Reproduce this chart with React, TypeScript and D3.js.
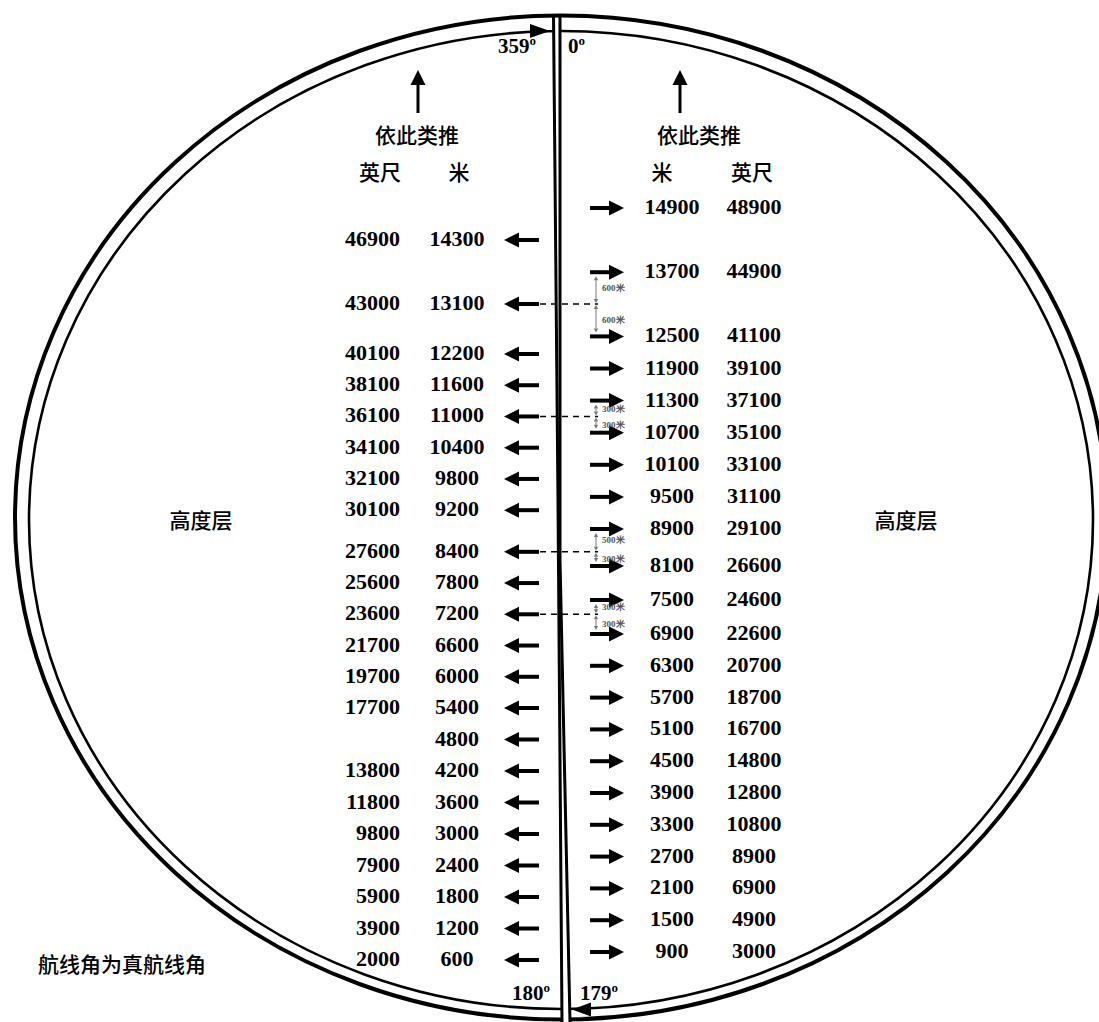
import React from "react";
import * as d3 from "d3";

// ---- data ----
const leftMeters = [14300, 13100, 12200, 11600, 11000, 10400, 9800, 9200, 8400, 7800, 7200, 6600, 6000, 5400, 4800, 4200, 3600, 3000, 2400, 1800, 1200, 600];
const leftFeet: (number | null)[] = [46900, 43000, 40100, 38100, 36100, 34100, 32100, 30100, 27600, 25600, 23600, 21700, 19700, 17700, null, 13800, 11800, 9800, 7900, 5900, 3900, 2000];
const rightMeters = [14900, 13700, 12500, 11900, 11300, 10700, 10100, 9500, 8900, 8100, 7500, 6900, 6300, 5700, 5100, 4500, 3900, 3300, 2700, 2100, 1500, 900];
const rightFeet = [48900, 44900, 41100, 39100, 37100, 35100, 33100, 31100, 29100, 26600, 24600, 22600, 20700, 18700, 16700, 14800, 12800, 10800, 8900, 6900, 4900, 3000];

// separation annotations: left level, upper & lower right levels, labels
const sepLeft = [13100, 11000, 8400, 7200];
const sepUpper = [13700, 11300, 8900, 7500];
const sepLower = [12500, 10700, 8100, 6900];
const sepLabels = [["600米", "600米"], ["300米", "300米"], ["500米", "300米"], ["300米", "300米"]];

const headerLeft = ["英尺", "米"];
const headerRight = ["米", "英尺"];

// ---- layout ----
const W = 1099, H = 1022;
const leftY = d3.scaleLinear().domain([600, 5400, 12200, 13100, 14300]).range([958, 706, 352, 302, 238]);
const rightY = d3.scaleLinear().domain([900, 6900, 8100, 8900, 14900]).range([950, 632, 564, 527, 206]);

const NUM_FONT = "'Liberation Serif', 'Times New Roman', serif";
const CJK_FONT = "'Noto Sans CJK SC', sans-serif";

function hArrow(x1: number, x2: number, y: number, head = 15, hw = 7.5, sw = 4) {
  const dir = x2 > x1 ? 1 : -1;
  const hb = x2 - dir * head;
  return (
    <g>
      <line x1={x1} y1={y} x2={hb + dir * 1} y2={y} stroke="#000" strokeWidth={sw} />
      <path d={`M${x2},${y} L${hb},${y - hw} L${hb},${y + hw} Z`} fill="#000" />
    </g>
  );
}

function vArrowUp(x: number, y1: number, y2: number) {
  const head = 15, hw = 7.5;
  return (
    <g>
      <line x1={x} y1={y1} x2={x} y2={y2 + head - 1} stroke="#000" strokeWidth={3} />
      <path d={`M${x},${y2} L${x - hw},${y2 + head} L${x + hw},${y2 + head} Z`} fill="#000" />
    </g>
  );
}

function bracket(x: number, ya: number, yb: number) {
  const h = 4, w = 2.2;
  return (
    <g>
      <line x1={x} y1={ya + h} x2={x} y2={yb - h} stroke="#777" strokeWidth={1} />
      <path d={`M${x},${ya} L${x - w},${ya + h} L${x + w},${ya + h} Z`} fill="#777" />
      <path d={`M${x},${yb} L${x - w},${yb - h} L${x + w},${yb - h} Z`} fill="#777" />
    </g>
  );
}

export default function App() {
  const cx = 561;
  // central divider lines
  const lA = [[553.5, 15], [558, 500], [562, 1022]];
  const lB = [[560, 15], [560, 560], [570, 1022]];
  const lineGen = d3.line();
  const between = [...lA, ...lB.slice().reverse()] as [number, number][];

  return (
    <svg width={W} height={H} style={{ position: "absolute", left: 0, top: 0, background: "#fff" }}>
      <rect width={W} height={H} fill="#fff" />
      {/* ellipses */}
      <ellipse cx={cx} cy={517.5} rx={546} ry={502} fill="none" stroke="#000" strokeWidth={4} />
      <ellipse cx={cx} cy={520} rx={532} ry={489} fill="none" stroke="#000" strokeWidth={2.6} />
      {/* white gap between central lines */}
      <path d={lineGen(between.map(([x, y]) => [x, Math.max(y, 19)]))! + "Z"} fill="#fff" />
      <path d={lineGen(lA as [number, number][])!} fill="none" stroke="#000" strokeWidth={3} />
      <path d={lineGen(lB as [number, number][])!} fill="none" stroke="#000" strokeWidth={3} />

      {/* 359 / 0 arrow at top */}
      <path d="M550,31 L530,24 L530,38 Z" fill="#000" />
      {/* 179 arrow at bottom */}
      <path d="M572,1009.5 L591,1002.5 L591,1016.5 Z" fill="#000" />

      {/* degree labels */}
      <g fontFamily={NUM_FONT} fontWeight="bold" fontSize={21}>
        <text x={498} y={53}>359<tspan fontSize={13} dy={-8}>o</tspan></text>
        <text x={568} y={53}>0<tspan fontSize={13} dy={-8}>o</tspan></text>
        <text x={512} y={1000}>180<tspan fontSize={13} dy={-8}>o</tspan></text>
        <text x={580} y={1000}>179<tspan fontSize={13} dy={-8}>o</tspan></text>
      </g>

      {/* up arrows and headers */}
      {vArrowUp(418, 113, 70)}
      {vArrowUp(680, 113, 70)}
      <g fontFamily={CJK_FONT} fontWeight={500} fontSize={21} textAnchor="middle">
        <text x={417} y={143}>依此类推</text>
        <text x={699} y={143}>依此类推</text>
        <text x={380} y={180}>{headerLeft[0]}</text>
        <text x={459} y={180}>{headerLeft[1]}</text>
        <text x={662} y={180}>{headerRight[0]}</text>
        <text x={752} y={180}>{headerRight[1]}</text>
        <text x={201} y={528}>高度层</text>
        <text x={906} y={528}>高度层</text>
        <text x={122} y={972}>航线角为真航线角</text>
      </g>

      {/* left (westbound) levels */}
      <g fontFamily={NUM_FONT} fontWeight="bold" fontSize={22}>
        {leftMeters.map((m, i) => {
          const y = leftY(m);
          return (
            <g key={"l" + m}>
              {leftFeet[i] !== null && (
                <text x={400} y={y + 8} textAnchor="end">{leftFeet[i]}</text>
              )}
              <text x={457} y={y + 8} textAnchor="middle">{m}</text>
              {hArrow(539, 504, y + 2)}
            </g>
          );
        })}
      </g>

      {/* right (eastbound) levels */}
      <g fontFamily={NUM_FONT} fontWeight="bold" fontSize={22}>
        {rightMeters.map((m, i) => {
          const y = rightY(m);
          return (
            <g key={"r" + m}>
              <text x={672} y={y + 8} textAnchor="middle">{m}</text>
              <text x={754} y={y + 8} textAnchor="middle">{rightFeet[i]}</text>
              {hArrow(590, 624, y + 2)}
            </g>
          );
        })}
      </g>

      {/* separation annotations */}
      {sepLeft.map((lm, i) => {
        const yd = leftY(lm) + 2;
        const yu = rightY(sepUpper[i]) + 2;
        const yl = rightY(sepLower[i]) + 2;
        return (
          <g key={"s" + i}>
            <line x1={540} y1={yd} x2={598} y2={yd} stroke="#000" strokeWidth={1.5} strokeDasharray="6,5" />
            {bracket(596, yu + 4, yd - 1)}
            {bracket(596, yd + 1, yl - 4)}
            <text x={602} y={(yu + yd) / 2 + 3} fontSize={9} fontFamily={NUM_FONT} fontWeight="bold" fill="#555">{sepLabels[i][0]}</text>
            <text x={602} y={(yd + yl) / 2 + 3} fontSize={9} fontFamily={NUM_FONT} fontWeight="bold" fill="#555">{sepLabels[i][1]}</text>
          </g>
        );
      })}
    </svg>
  );
}
